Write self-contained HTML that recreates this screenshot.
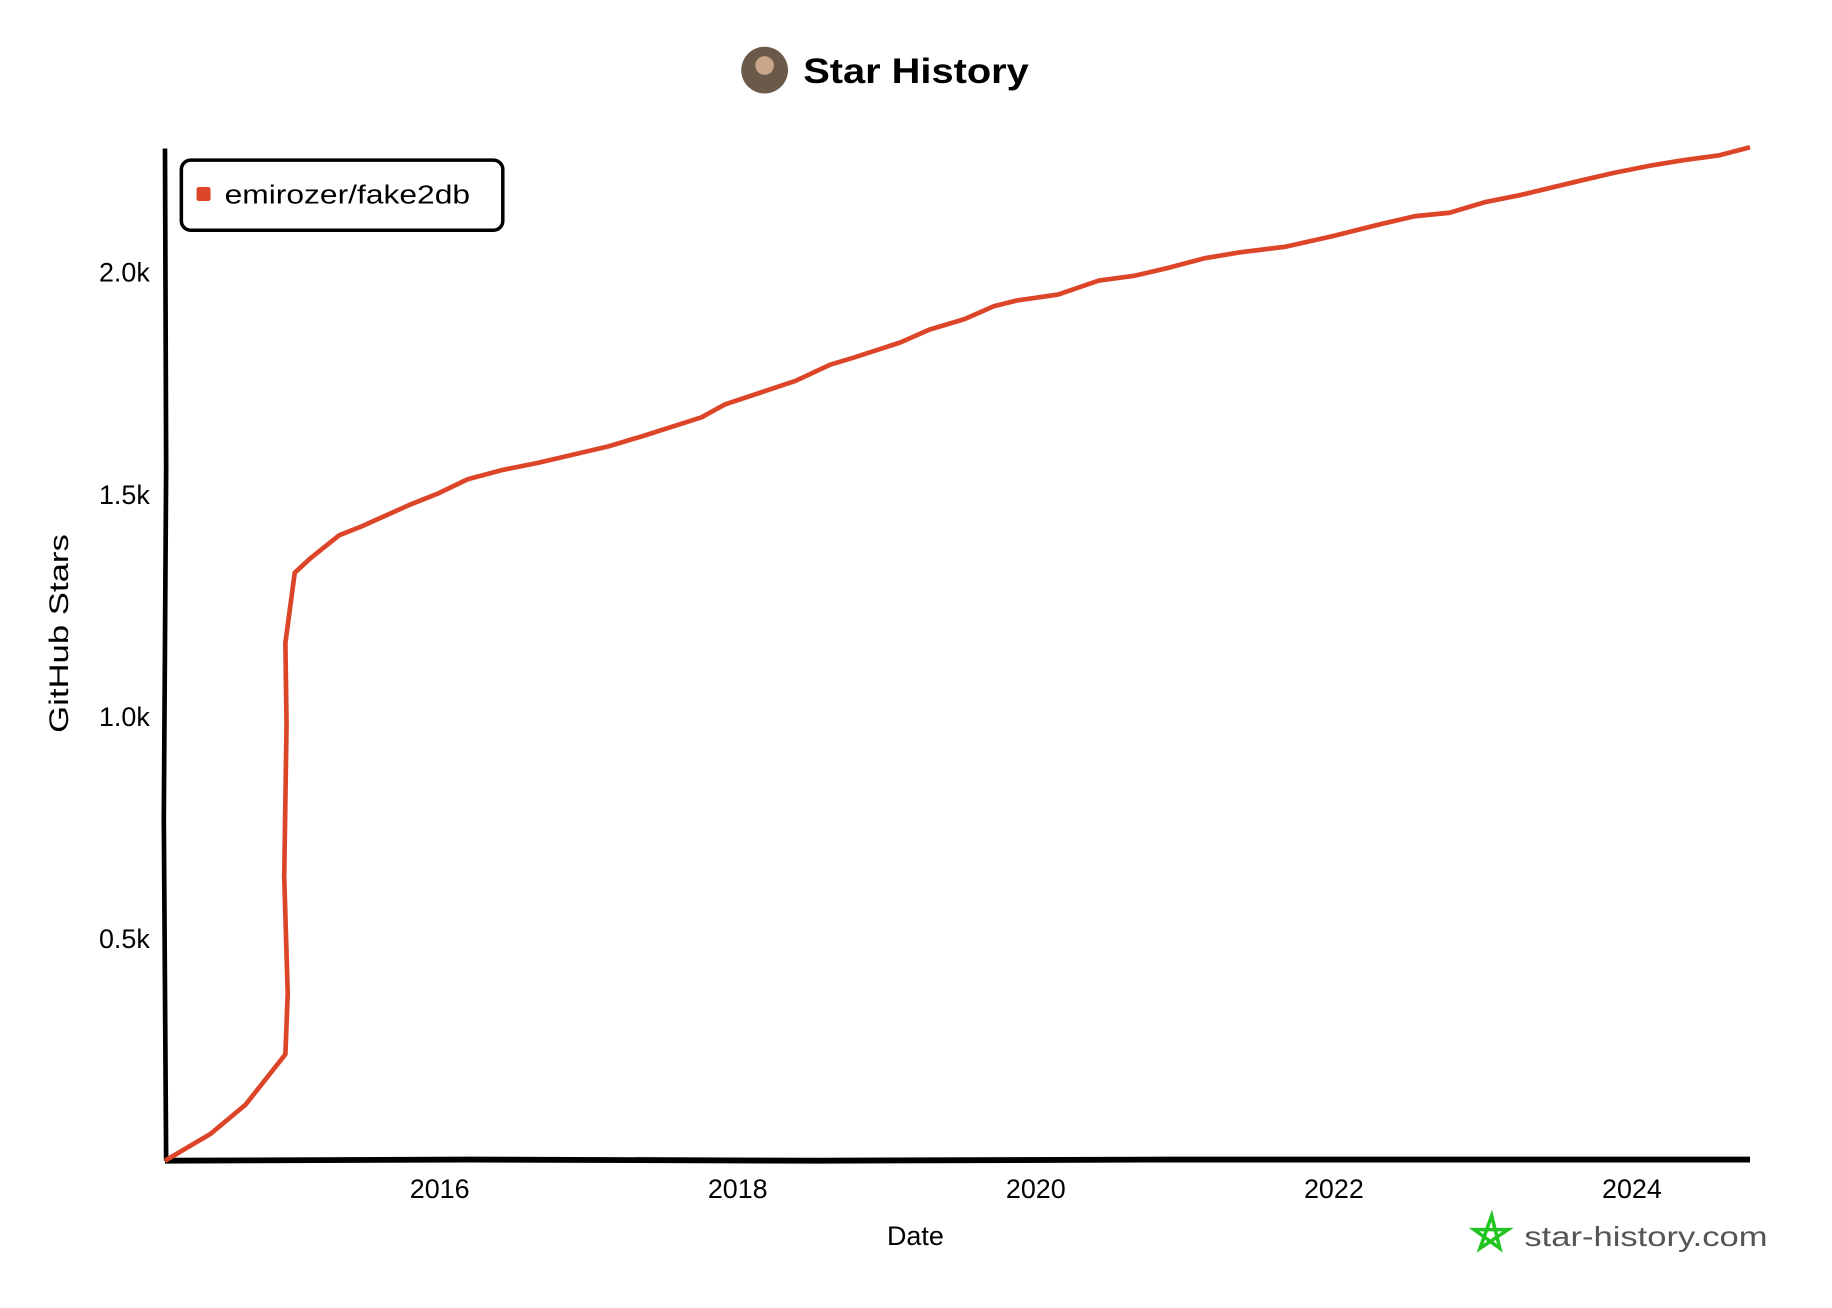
<!DOCTYPE html>
<html><head><meta charset="utf-8"><style>
html,body{margin:0;padding:0;background:#fff;}
svg{display:block;}
text{font-family:"Liberation Sans",sans-serif;fill:#000;}
</style></head><body>
<svg width="1832" height="1308" viewBox="0 0 1567 1119" xmlns="http://www.w3.org/2000/svg">
<rect width="1567" height="1119" fill="#fff"/>
<circle cx="654" cy="60" r="20" fill="#6b5a4a"/>
<circle cx="654" cy="56" r="8" fill="#c9a58a"/>
<text x="687" y="71" font-size="30" font-weight="bold" textLength="193" lengthAdjust="spacingAndGlyphs">Star History</text>
<path d="M141 127 L142 400 L140 700 L142 993" stroke="#000" stroke-width="4" fill="none"/>
<path d="M141 993 L400 992 L700 993 L1000 992 L1300 992 L1497 992" stroke="#000" stroke-width="5" fill="none"/>
<g font-size="23" text-anchor="end">
<text x="128" y="241">2.0k</text>
<text x="128" y="431">1.5k</text>
<text x="128" y="621">1.0k</text>
<text x="128" y="811">0.5k</text>
</g>
<g font-size="23" text-anchor="middle">
<text x="376" y="1025">2016</text>
<text x="631" y="1025">2018</text>
<text x="886" y="1025">2020</text>
<text x="1141" y="1025">2022</text>
<text x="1396" y="1025">2024</text>
<text x="783" y="1065">Date</text>
</g>
<text transform="translate(58 542) rotate(-90)" font-size="23" text-anchor="middle" textLength="170" lengthAdjust="spacingAndGlyphs">GitHub Stars</text>
<path d="M141 993 L180 970 L210 945 L244 902 L246 850 L243 750 L245 620 L244 550 L252 490 L265 478 L290 458 L310 450 L350 432 L375 422 L400 410 L430 402 L460 396 L520 382 L550 373 L600 357 L620 346 L680 326 L710 312 L730 306 L770 293 L795 282 L825 273 L850 262 L870 257 L905 252 L940 240 L970 236 L1000 229 L1030 221 L1060 216 L1100 211 L1140 202 L1180 192 L1210 185 L1240 182 L1270 173 L1300 167 L1350 155 L1380 148 L1410 142 L1440 137 L1470 133 L1497 126" stroke="#dd4528" stroke-width="4" fill="none" stroke-linejoin="round"/>
<rect x="155" y="137" width="275" height="60" rx="8" fill="#fff" stroke="#000" stroke-width="3"/>
<rect x="168" y="160" width="12" height="12" rx="2" fill="#dd4528"/>
<text x="192" y="174" font-size="22" textLength="210" lengthAdjust="spacingAndGlyphs">emirozer/fake2db</text>
<path d="M1276 1040 L1283 1068 L1261 1052 L1290 1052 L1266 1068 Z" stroke="#22c422" stroke-width="3" fill="none"/>
<text x="1304" y="1066" font-size="24" style="fill:#555" textLength="208" lengthAdjust="spacingAndGlyphs">star-history.com</text>
</svg>
</body></html>
